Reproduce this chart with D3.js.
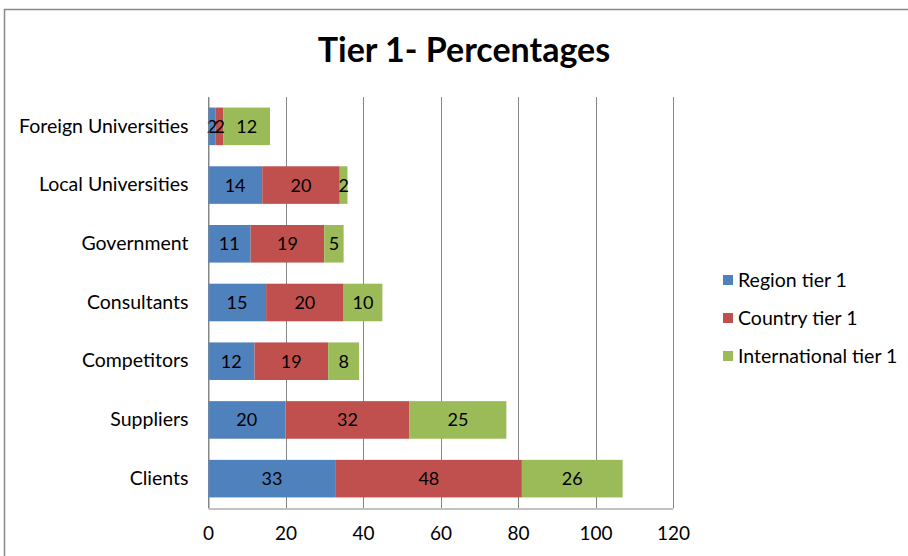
<!DOCTYPE html>
<html>
<head>
<meta charset="utf-8">
<script src="https://cdn.jsdelivr.net/npm/d3@7"></script>
<style>
  body { margin: 0; background: #fff; }
  svg text { font-family: Lato, "Open Sans", sans-serif; fill: #000; }
</style>
</head>
<body>
<svg id="chart" width="908" height="556"></svg>
<script>
/* chart data */
var categories = ["Foreign Universities", "Local Universities", "Government", "Consultants", "Competitors", "Suppliers", "Clients"];
var seriesNames = ["Region tier 1", "Country tier 1", "International tier 1"];
var regionVals = [2, 14, 11, 15, 12, 20, 33];
var countryVals = [2, 20, 19, 20, 19, 32, 48];
var internationalVals = [12, 2, 5, 10, 8, 25, 26];
var xTicks = [0, 20, 40, 60, 80, 100, 120];
var colors = ["#4F81BD", "#C0504D", "#9BBB59"];

var svg = d3.select("#chart");

/* outer chart border */
svg.append("rect")
  .attr("x", 4.5).attr("y", 9.5)
  .attr("width", 920).attr("height", 600)
  .attr("fill", "none").attr("stroke", "#888").attr("stroke-width", 1.5);

svg.append("text")
  .attr("x", 464).attr("y", 62)
  .attr("text-anchor", "middle")
  .style("font-size", "34px").style("font-weight", "bold")
  .text("Tier 1- Percentages");

var plotLeft = 208, plotRight = 673, plotTop = 97, plotBottom = 508;

var x = d3.scaleLinear().domain([0, 120]).range([plotLeft, plotRight]);
var y = d3.scaleBand().domain(categories).range([plotTop, plotBottom]).paddingInner(0.36).paddingOuter(0.18);

/* gridlines */
svg.append("g").selectAll("line").data(xTicks).join("line")
  .attr("x1", d => Math.round(x(d)) + 0.5).attr("x2", d => Math.round(x(d)) + 0.5)
  .attr("y1", plotTop).attr("y2", plotBottom)
  .attr("stroke", "#868686").attr("stroke-width", 1);

/* stack the rows */
var rows = categories.map(function(c, i) {
  return { cat: c, region: regionVals[i], country: countryVals[i], international: internationalVals[i] };
});
var stack = d3.stack().keys(["region", "country", "international"]);
var layers = stack(rows);

var g = svg.append("g");
layers.forEach(function(layer, li) {
  g.selectAll(".bar" + li).data(layer).join("rect")
    .attr("class", "bar" + li)
    .attr("x", d => x(d[0]))
    .attr("width", d => x(d[1]) - x(d[0]))
    .attr("y", d => y(d.data.cat))
    .attr("height", y.bandwidth())
    .attr("fill", colors[li]);
});
layers.forEach(function(layer, li) {
  g.selectAll(".lbl" + li).data(layer).join("text")
    .attr("class", "lbl" + li)
    .attr("x", d => (x(d[0]) + x(d[1])) / 2)
    .attr("y", d => y(d.data.cat) + y.bandwidth() / 2 + 6.5)
    .attr("text-anchor", "middle")
    .style("font-size", "18px")
    .text(d => d[1] - d[0]);
});

/* x axis */
var xAxis = d3.axisBottom(x).tickValues(xTicks).tickSize(0).tickPadding(18);
var ax = svg.append("g").attr("transform", "translate(0," + (plotBottom + 0.5) + ")").call(xAxis);
ax.select(".domain").attr("stroke", "#868686");
ax.selectAll("text").style("font-size", "19px").style("font-family", "Lato, sans-serif").attr("fill", "#000");

/* y axis */
var yAxis = d3.axisLeft(y).tickSize(0).tickPadding(20);
var ay = svg.append("g").attr("transform", "translate(" + (plotLeft + 0.5) + ",0)").call(yAxis);
ay.select(".domain").attr("stroke", "#868686");
ay.selectAll("text").style("font-size", "19.5px").style("font-family", "Lato, sans-serif").attr("fill", "#000");

/* legend */
var leg = svg.append("g").selectAll("g").data(seriesNames).join("g")
  .attr("transform", (d, i) => "translate(723," + (280 + i * 38) + ")");
leg.append("rect").attr("x", 0).attr("y", -5).attr("width", 10).attr("height", 10)
  .attr("fill", (d, i) => colors[i]);
leg.append("text").attr("x", 15).attr("y", 6.5)
  .style("font-size", "19.5px")
  .text(d => d);
</script>
</body>
</html>
